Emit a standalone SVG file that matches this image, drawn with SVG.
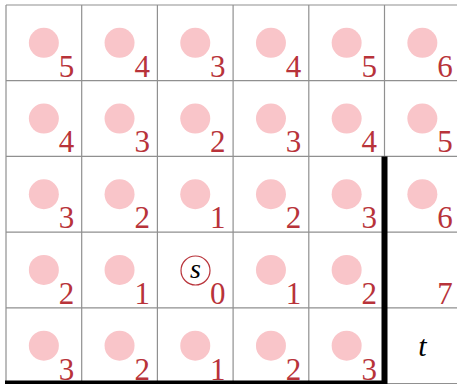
<svg xmlns="http://www.w3.org/2000/svg" width="457" height="384" viewBox="0 0 457 384">
<style>
.grid{stroke:#909090;stroke-width:1.2;fill:none}
.dot{fill:#f9c5c9}
.num{font-family:"Liberation Serif","DejaVu Serif",serif;font-size:31px;fill:#b8333a;text-anchor:end}
.lab{font-family:"Liberation Serif","DejaVu Serif",serif;font-style:italic;fill:#000;text-anchor:middle}
.wall{stroke:#000;stroke-width:6;fill:none}
</style>
<rect width="457" height="384" fill="#fff"/>
<g id="grid" class="grid">
<path d="M6 5V383.5M81.7 5V383.5M157.4 5V383.5M233.1 5V383.5M308.8 5V383.5M384.5 5V383.5"/>
<path d="M6 5H457M6 80.7H457M6 156.4H457M6 232.1H457M6 307.8H457M6 383.5H457"/>
</g>
<g id="r0">
<g id="c00"><circle class="dot" cx="43.85" cy="42.85" r="15"/><text class="num" x="74.2" y="76.7">5</text></g>
<g id="c01"><circle class="dot" cx="119.55" cy="42.85" r="15"/><text class="num" x="149.9" y="76.7">4</text></g>
<g id="c02"><circle class="dot" cx="195.25" cy="42.85" r="15"/><text class="num" x="225.6" y="76.7">3</text></g>
<g id="c03"><circle class="dot" cx="270.95" cy="42.85" r="15"/><text class="num" x="301.3" y="76.7">4</text></g>
<g id="c04"><circle class="dot" cx="346.65" cy="42.85" r="15"/><text class="num" x="377" y="76.7">5</text></g>
<g id="c05"><circle class="dot" cx="422.35" cy="42.85" r="15"/><text class="num" x="452.7" y="76.7">6</text></g>
</g>
<g id="r1">
<g id="c10"><circle class="dot" cx="43.85" cy="118.55" r="15"/><text class="num" x="74.2" y="152.4">4</text></g>
<g id="c11"><circle class="dot" cx="119.55" cy="118.55" r="15"/><text class="num" x="149.9" y="152.4">3</text></g>
<g id="c12"><circle class="dot" cx="195.25" cy="118.55" r="15"/><text class="num" x="225.6" y="152.4">2</text></g>
<g id="c13"><circle class="dot" cx="270.95" cy="118.55" r="15"/><text class="num" x="301.3" y="152.4">3</text></g>
<g id="c14"><circle class="dot" cx="346.65" cy="118.55" r="15"/><text class="num" x="377" y="152.4">4</text></g>
<g id="c15"><circle class="dot" cx="422.35" cy="118.55" r="15"/><text class="num" x="452.7" y="152.4">5</text></g>
</g>
<g id="r2">
<g id="c20"><circle class="dot" cx="43.85" cy="194.25" r="15"/><text class="num" x="74.2" y="228.1">3</text></g>
<g id="c21"><circle class="dot" cx="119.55" cy="194.25" r="15"/><text class="num" x="149.9" y="228.1">2</text></g>
<g id="c22"><circle class="dot" cx="195.25" cy="194.25" r="15"/><text class="num" x="225.6" y="228.1">1</text></g>
<g id="c23"><circle class="dot" cx="270.95" cy="194.25" r="15"/><text class="num" x="301.3" y="228.1">2</text></g>
<g id="c24"><circle class="dot" cx="346.65" cy="194.25" r="15"/><text class="num" x="377" y="228.1">3</text></g>
<g id="c25"><circle class="dot" cx="422.35" cy="194.25" r="15"/><text class="num" x="452.7" y="228.1">6</text></g>
</g>
<g id="r3">
<g id="c30"><circle class="dot" cx="43.85" cy="269.95" r="15"/><text class="num" x="74.2" y="303.8">2</text></g>
<g id="c31"><circle class="dot" cx="119.55" cy="269.95" r="15"/><text class="num" x="149.9" y="303.8">1</text></g>
<g id="s"><circle cx="195.5" cy="270.5" r="14.5" fill="#fff" stroke="#b8333a" stroke-width="1.2"/><text class="lab" x="195.5" y="277.5" font-size="28">s</text><text class="num" x="225.6" y="303.8">0</text></g>
<g id="c33"><circle class="dot" cx="270.95" cy="269.95" r="15"/><text class="num" x="301.3" y="303.8">1</text></g>
<g id="c34"><circle class="dot" cx="346.65" cy="269.95" r="15"/><text class="num" x="377" y="303.8">2</text></g>
<g id="c35"><text class="num" x="452.7" y="303.8">7</text></g>
</g>
<g id="r4">
<g id="c40"><circle class="dot" cx="43.85" cy="345.65" r="15"/><text class="num" x="74.2" y="379.5">3</text></g>
<g id="c41"><circle class="dot" cx="119.55" cy="345.65" r="15"/><text class="num" x="149.9" y="379.5">2</text></g>
<g id="c42"><circle class="dot" cx="195.25" cy="345.65" r="15"/><text class="num" x="225.6" y="379.5">1</text></g>
<g id="c43"><circle class="dot" cx="270.95" cy="345.65" r="15"/><text class="num" x="301.3" y="379.5">2</text></g>
<g id="c44"><circle class="dot" cx="346.65" cy="345.65" r="15"/><text class="num" x="377" y="379.5">3</text></g>
<g id="t"><text class="lab" x="422.5" y="355.5" font-size="30">t</text></g>
</g>
<g id="connectors">
<path class="wall" d="M5 383.5H384.5V156.4"/>
</g>
</svg>
